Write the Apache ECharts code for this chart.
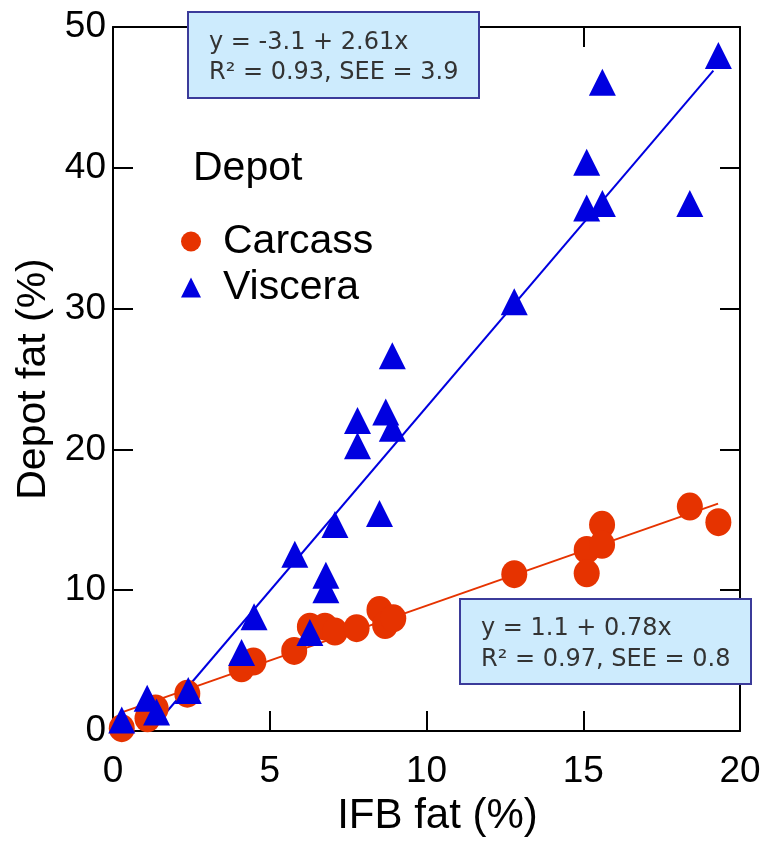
<!DOCTYPE html>
<html>
<head>
<meta charset="utf-8">
<script src="https://cdn.jsdelivr.net/npm/echarts@6/dist/echarts.min.js"></script>
<style>
html,body{margin:0;padding:0;background:#fff;}
#chart{width:771px;height:842px;}
</style>
</head>
<body>
<div id="chart"></div>
<script>
// ---- data ----
var carcassX = [0.28, 1.10, 1.36, 2.37, 4.10, 4.48, 5.78, 6.28, 6.76, 7.08, 7.77, 8.50, 8.68, 8.94, 12.80, 15.11, 15.11, 15.60, 15.60, 18.40, 19.31];
var carcassY = [0.20, 0.90, 1.60, 2.65, 4.45, 4.93, 5.69, 7.41, 7.41, 7.06, 7.30, 8.60, 7.53, 8.00, 11.14, 12.86, 11.20, 14.64, 13.22, 15.94, 14.83];

var visceraX = [0.28, 1.09, 1.39, 2.40, 4.10, 4.50, 5.80, 6.28, 6.79, 6.79, 7.08, 7.80, 7.80, 8.50, 8.70, 8.91, 8.91, 12.80, 15.11, 15.11, 15.61, 15.61, 18.40, 19.31];
var visceraY = [0.78, 2.32, 1.35, 2.88, 5.57, 8.12, 12.56, 6.99, 11.07, 10.04, 14.66, 22.05, 20.26, 15.45, 22.65, 21.50, 26.65, 30.49, 40.39, 37.15, 37.46, 46.08, 37.46, 47.97];

// regression line end points
var carcassFitX = [0.28, 19.30];
var carcassFitY = [1.32, 16.15];
var visceraFitX = [1.19, 19.15];
var visceraFitY = [0.00, 46.90];

var xTicks = {min: 0, max: 20, interval: 5};
var yTicks = {min: 0, max: 50, interval: 10};

var eqViscera = ['y = -3.1 + 2.61x', 'R\u00B2 = 0.93, SEE = 3.9'];
var eqCarcass = ['y = 1.1 + 0.78x', 'R\u00B2 = 0.97, SEE = 0.8'];

var legendTitle = 'Depot';
var seriesNames = ['Carcass', 'Viscera'];

// ---- build ----
function zip(a, b) { return a.map(function (v, i) { return [v, b[i]]; }); }

var RED = '#e63300';
var BLUE = '#0000e0';
var FONT = 'Liberation Sans, Arial, sans-serif';
var EQFONT = '24px DejaVu Sans, sans-serif';

var chart = echarts.init(document.getElementById('chart'), null, {renderer: 'canvas'});

var axisCommon = {
  type: 'value',
  splitLine: {show: false},
  axisLine: {show: true, onZero: false, lineStyle: {color: '#000', width: 2}},
  axisTick: {show: true, inside: true, length: 20, lineStyle: {color: '#000', width: 2}}
};

function eqBox(left, top, h, lines, ty, lh) {
  return {
    type: 'group', left: left, top: top, z: 100,
    children: [
      {type: 'rect', z: 100, shape: {x: 0, y: 0, width: 291, height: h},
       style: {fill: '#cdebfd', stroke: '#3b3b9a', lineWidth: 2}},
      {type: 'text', z: 101, x: 21, y: ty,
       style: {text: lines.join('\n'), font: EQFONT, fill: '#333', lineHeight: lh}}
    ]
  };
}

var option = {
  animation: false,
  backgroundColor: '#fff',
  grid: {left: 113, right: 31, top: 27, bottom: 111},
  xAxis: [
    Object.assign({}, axisCommon, {
      position: 'bottom', min: xTicks.min, max: xTicks.max, interval: xTicks.interval,
      axisLabel: {fontSize: 37, color: '#000', fontFamily: FONT, margin: 22},
      name: 'IFB fat (%)', nameLocation: 'middle', nameGap: 64,
      nameTextStyle: {fontSize: 42, color: '#000', fontFamily: FONT, padding: [0, 0, 0, 22]}
    }),
    Object.assign({}, axisCommon, {
      position: 'top', min: xTicks.min, max: xTicks.max, interval: xTicks.interval,
      axisLabel: {show: false}
    })
  ],
  yAxis: [
    Object.assign({}, axisCommon, {
      position: 'left', min: yTicks.min, max: yTicks.max, interval: yTicks.interval,
      axisLabel: {fontSize: 37, color: '#000', fontFamily: FONT, margin: 7},
      name: 'Depot fat (%)', nameLocation: 'middle', nameGap: 56,
      nameTextStyle: {fontSize: 41, color: '#000', fontFamily: FONT}
    }),
    Object.assign({}, axisCommon, {
      position: 'right', min: yTicks.min, max: yTicks.max, interval: yTicks.interval,
      axisLabel: {show: false}
    })
  ],
  legend: {
    orient: 'vertical',
    left: 181, top: 221,
    padding: 0,
    itemGap: 5,
    itemWidth: 20, itemHeight: 20,
    data: seriesNames,
    textStyle: {fontSize: 41, lineHeight: 41, color: '#000', fontFamily: FONT, padding: [0, 0, 0, 17]}
  },
  series: [
    {
      type: 'line', xAxisIndex: 0, yAxisIndex: 0,
      data: zip(carcassFitX, carcassFitY), symbol: 'none',
      lineStyle: {color: RED, width: 2}, z: 1, silent: true
    },
    {
      type: 'line', xAxisIndex: 0, yAxisIndex: 0,
      data: zip(visceraFitX, visceraFitY), symbol: 'none',
      lineStyle: {color: BLUE, width: 2}, z: 1, silent: true
    },
    {
      name: seriesNames[0], type: 'scatter', xAxisIndex: 0, yAxisIndex: 0,
      data: zip(carcassX, carcassY), symbol: 'circle', symbolSize: [26, 28],
      itemStyle: {color: RED, opacity: 1}, clip: false, z: 3
    },
    {
      name: seriesNames[1], type: 'scatter', xAxisIndex: 0, yAxisIndex: 0,
      data: zip(visceraX, visceraY), symbol: 'triangle', symbolSize: 27,
      itemStyle: {color: BLUE, opacity: 1}, clip: false, z: 4
    }
  ],
  graphic: [
    {
      type: 'text', left: 193, top: 148, z: 50,
      style: {text: legendTitle, font: '41px ' + FONT, fill: '#000'}
    },
    eqBox(187, 11, 86, eqViscera, 16, 30),
    eqBox(459, 598, 85, eqCarcass, 14, 31)
  ]
};
chart.setOption(option);
</script>
</body>
</html>
